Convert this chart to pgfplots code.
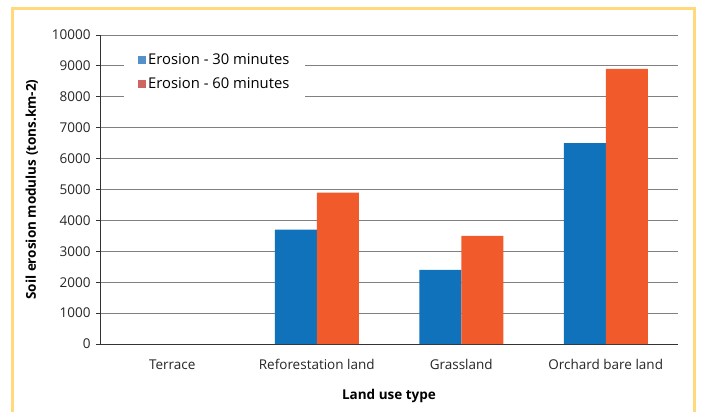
\documentclass[border=0pt]{standalone}
\usepackage{pgfplots}
\pgfplotsset{compat=1.18}
\usepackage{fontspec}
\setmainfont{Open Sans}
\definecolor{barblue}{HTML}{1072BA}
\definecolor{barorange}{HTML}{F15A2B}
\definecolor{legblue}{HTML}{5591C9}
\definecolor{legred}{HTML}{CD6560}
\definecolor{framecol}{HTML}{FFD97A}
\newcommand\fs{\fontsize{13.5bp}{16bp}\selectfont}
\newcommand\lfs{\fontsize{14.8bp}{17bp}\selectfont}
\begin{document}
\begin{tikzpicture}[x=1bp,y=1bp]
\useasboundingbox (0,0) rectangle (704,412);
\draw[framecol, line width=3bp] (12.5,0) -- (12.5,403) -- (694,403) -- (694,0);
\begin{axis}[
  at={(100bp,68bp)}, anchor=south west,
  scale only axis, width=578bp, height=309bp,
  xmin=-0.5, xmax=3.5, ymin=0, ymax=10000,
  ybar=0pt, bar width=42bp,
  axis x line*=bottom, axis y line*=left,
  axis line style={black!80, line width=0.8bp},
  ytick={0,1000,...,10000},
  scaled y ticks=false,
  /pgf/number format/1000 sep={},
  /pgf/number format/assume math mode=true,
  ymajorgrids, grid style={black!50, line width=0.9bp},
  xtick={0,1,2,3},
  xticklabels={Terrace,Reforestation land,Grassland,Orchard bare land},
  major x tick style={draw=none},
  extra x ticks={-0.5,0.5,1.5,2.5,3.5},
  extra x tick labels={},
  extra x tick style={grid=none, major tick length=5bp, tick style={draw=black!80, line width=0.8bp}},
  tick align=outside, major tick length=4bp,
  y tick style={black!80, line width=0.8bp},
  tick label style={font=\fs, text=black!85},
  y tick label style={xshift=-2bp},
  x tick label style={yshift=-8bp},
  xlabel={Land use type}, ylabel={Soil erosion modulus (tons.km-2)},
  label style={font=\fs\bfseries},
  xlabel style={at={(axis description cs:0.5,-0.168)}, anchor=center},
  ylabel style={at={(axis description cs:-0.118,0.5)}, anchor=center},
  legend style={at={(axis description cs:0.0415,0.963)}, anchor=north west,
    draw=none, fill=white, font=\lfs, row sep=8bp, inner xsep=14bp, inner ysep=5bp},
  legend cell align=left,
]
\addplot[fill=barblue, draw=none,
  legend image code/.code={\fill[legblue] (0bp,-4bp) rectangle (8bp,4bp);}]
  coordinates {(1,3700) (2,2400) (3,6500)};
\addlegendentry{Erosion - 30 minutes}
\addplot[fill=barorange, draw=none,
  legend image code/.code={\fill[legred] (0bp,-4bp) rectangle (8bp,4bp);}]
  coordinates {(1,4900) (2,3500) (3,8900)};
\addlegendentry{Erosion - 60 minutes}
\end{axis}
\end{tikzpicture}
\end{document}
